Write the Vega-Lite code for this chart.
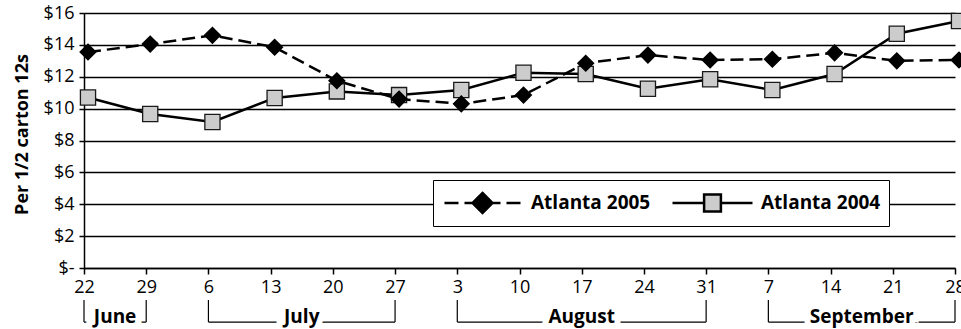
{
  "$schema": "https://vega.github.io/schema/vega-lite/v6.json",
  "width": 871,
  "height": 255,
  "autosize": {"type": "none"},
  "padding": {"left": 84, "top": 13, "right": 6, "bottom": 61},
  "background": "white",
  "datasets": {
    "prices": [
      {"week": "2005-06-22", "series": "Atlanta 2004", "price": 10.7},
      {"week": "2005-06-29", "series": "Atlanta 2004", "price": 9.66},
      {"week": "2005-07-06", "series": "Atlanta 2004", "price": 9.16},
      {"week": "2005-07-13", "series": "Atlanta 2004", "price": 10.67},
      {"week": "2005-07-20", "series": "Atlanta 2004", "price": 11.08},
      {"week": "2005-07-27", "series": "Atlanta 2004", "price": 10.85},
      {"week": "2005-08-03", "series": "Atlanta 2004", "price": 11.17},
      {"week": "2005-08-10", "series": "Atlanta 2004", "price": 12.25},
      {"week": "2005-08-17", "series": "Atlanta 2004", "price": 12.17},
      {"week": "2005-08-24", "series": "Atlanta 2004", "price": 11.25},
      {"week": "2005-08-31", "series": "Atlanta 2004", "price": 11.84},
      {"week": "2005-09-07", "series": "Atlanta 2004", "price": 11.17},
      {"week": "2005-09-14", "series": "Atlanta 2004", "price": 12.17},
      {"week": "2005-09-21", "series": "Atlanta 2004", "price": 14.7},
      {"week": "2005-09-28", "series": "Atlanta 2004", "price": 15.5},
      {"week": "2005-06-22", "series": "Atlanta 2005", "price": 13.55},
      {"week": "2005-06-29", "series": "Atlanta 2005", "price": 14.05},
      {"week": "2005-07-06", "series": "Atlanta 2005", "price": 14.6},
      {"week": "2005-07-13", "series": "Atlanta 2005", "price": 13.85},
      {"week": "2005-07-20", "series": "Atlanta 2005", "price": 11.75},
      {"week": "2005-07-27", "series": "Atlanta 2005", "price": 10.6},
      {"week": "2005-08-03", "series": "Atlanta 2005", "price": 10.3},
      {"week": "2005-08-10", "series": "Atlanta 2005", "price": 10.85},
      {"week": "2005-08-17", "series": "Atlanta 2005", "price": 12.85},
      {"week": "2005-08-24", "series": "Atlanta 2005", "price": 13.36},
      {"week": "2005-08-31", "series": "Atlanta 2005", "price": 13.05},
      {"week": "2005-09-07", "series": "Atlanta 2005", "price": 13.1},
      {"week": "2005-09-14", "series": "Atlanta 2005", "price": 13.5},
      {"week": "2005-09-21", "series": "Atlanta 2005", "price": 13.0},
      {"week": "2005-09-28", "series": "Atlanta 2005", "price": 13.05}
    ],
    "months": [
      {"month": "June", "first": "2005-06-22", "last": "2005-06-29", "mid": "2005-06-25T12:00:00Z"},
      {"month": "July", "first": "2005-07-06", "last": "2005-07-27", "mid": "2005-07-16T12:00:00Z"},
      {"month": "August", "first": "2005-08-03", "last": "2005-08-31", "mid": "2005-08-17T00:00:00Z"},
      {"month": "September", "first": "2005-09-07", "last": "2005-09-28", "mid": "2005-09-17T12:00:00Z"}
    ]
  },
  "layer": [
    {
      "data": {"name": "prices"},
      "transform": [{"filter": "datum.series === 'Atlanta 2004'"}],
      "mark": {"type": "line", "strokeWidth": 2.5, "xOffset": 4},
      "encoding": {
        "x": {
          "field": "week", "type": "temporal",
          "scale": {"type": "utc", "domain": [{"year": 2005, "month": 6, "date": 22, "utc": true}, {"year": 2005, "month": 9, "date": 28, "utc": true}]},
          "axis": {
            "title": null,
            "format": "%-d",
            "values": [
              {"year": 2005, "month": 6, "date": 22, "utc": true},
              {"year": 2005, "month": 6, "date": 29, "utc": true},
              {"year": 2005, "month": 7, "date": 6, "utc": true},
              {"year": 2005, "month": 7, "date": 13, "utc": true},
              {"year": 2005, "month": 7, "date": 20, "utc": true},
              {"year": 2005, "month": 7, "date": 27, "utc": true},
              {"year": 2005, "month": 8, "date": 3, "utc": true},
              {"year": 2005, "month": 8, "date": 10, "utc": true},
              {"year": 2005, "month": 8, "date": 17, "utc": true},
              {"year": 2005, "month": 8, "date": 24, "utc": true},
              {"year": 2005, "month": 8, "date": 31, "utc": true},
              {"year": 2005, "month": 9, "date": 7, "utc": true},
              {"year": 2005, "month": 9, "date": 14, "utc": true},
              {"year": 2005, "month": 9, "date": 21, "utc": true},
              {"year": 2005, "month": 9, "date": 28, "utc": true}
            ],
            "grid": false,
            "domainColor": "#000",
            "domainWidth": 1.5,
            "tickColor": "#000",
            "tickWidth": 1.5,
            "tickSize": 6,
            "labelFontSize": 18,
            "labelColor": "#000",
            "labelPadding": 4,
            "labelFlush": false,
            "labelOverlap": false
          }
        },
        "y": {
          "field": "price", "type": "quantitative",
          "scale": {"domain": [0, 16], "nice": false, "zero": true},
          "axis": {
            "title": "Per 1/2 carton 12s",
            "values": [0, 2, 4, 6, 8, 10, 12, 14, 16],
            "tickCount": 9,
            "labelOverlap": false,
            "labelExpr": "datum.value === 0 ? '$-' : '$' + datum.value",
            "grid": true,
            "gridColor": "#000",
            "gridWidth": 1.5,
            "domainColor": "#000",
            "domainWidth": 1.5,
            "tickColor": "#000",
            "tickWidth": 1.5,
            "tickSize": 5,
            "labelFontSize": 18,
            "labelColor": "#000",
            "labelPadding": 5,
            "titleFontSize": 18,
            "titleFontWeight": "bold",
            "titleColor": "#000",
            "titlePadding": 12,
            "titleY": 121
          }
        },
        "color": {
          "field": "series", "type": "nominal",
          "scale": {"domain": ["Atlanta 2005", "Atlanta 2004"], "range": ["#000000", "#000000"]},
          "legend": {
            "title": null,
            "orient": "none",
            "legendX": 349,
            "legendY": 167,
            "direction": "horizontal",
            "symbolSize": 6400,
            "clipHeight": 30,
            "labelFontSize": 19,
            "labelFontWeight": "bold",
            "labelColor": "#000",
            "labelOffset": 7,
            "columnPadding": 20,
            "padding": 8,
            "strokeColor": "#000",
            "fillColor": "#fff",
            "encode": {
              "symbols": {
                "update": {
                  "shape": {"signal": "datum.value === 'Atlanta 2005' ? 'M-0.95,0H-0.6M-0.45,0H-0.15M0.15,0H0.45M0.6,0H0.95M0,-0.25L0.25,0L0,0.25L-0.25,0Z' : 'M-1,0H-0.21M0.21,0H1M-0.21,-0.21H0.21V0.21H-0.21Z'"},
                  "fill": {"signal": "datum.value === 'Atlanta 2005' ? '#000000' : '#cccccc'"},
                  "stroke": {"value": "#000000"},
                  "strokeWidth": {"value": 2.5},
                  "opacity": {"value": 1}
                }
              }
            }
          }
        }
      }
    },
    {
      "data": {"name": "prices"},
      "transform": [{"filter": "datum.series === 'Atlanta 2005'"}],
      "mark": {"type": "line", "strokeWidth": 2.5, "xOffset": 4, "strokeDash": [13, 6]},
      "encoding": {
        "x": {"field": "week", "type": "temporal", "scale": {"type": "utc", "domain": [{"year": 2005, "month": 6, "date": 22, "utc": true}, {"year": 2005, "month": 9, "date": 28, "utc": true}]}},
        "y": {"field": "price", "type": "quantitative", "scale": {"domain": [0, 16], "nice": false, "zero": true}},
        "color": {"field": "series", "type": "nominal", "scale": {"domain": ["Atlanta 2005", "Atlanta 2004"], "range": ["#000000", "#000000"]}}
      }
    },
    {
      "data": {"name": "prices"},
      "transform": [{"filter": "datum.series === 'Atlanta 2004'"}],
      "mark": {"type": "point", "shape": "square", "filled": true, "fill": "#cccccc", "opacity": 1, "xOffset": 4, "size": 230, "stroke": "#1a1a1a", "strokeWidth": 1.3},
      "encoding": {
        "x": {"field": "week", "type": "temporal", "scale": {"type": "utc", "domain": [{"year": 2005, "month": 6, "date": 22, "utc": true}, {"year": 2005, "month": 9, "date": 28, "utc": true}]}},
        "y": {"field": "price", "type": "quantitative", "scale": {"domain": [0, 16], "nice": false, "zero": true}}
      }
    },
    {
      "data": {"name": "prices"},
      "transform": [{"filter": "datum.series === 'Atlanta 2005'"}],
      "mark": {"type": "point", "shape": "diamond", "filled": true, "fill": "#000000", "opacity": 1, "xOffset": 4, "size": 250, "stroke": "#000000", "strokeWidth": 1.3},
      "encoding": {
        "x": {"field": "week", "type": "temporal", "scale": {"type": "utc", "domain": [{"year": 2005, "month": 6, "date": 22, "utc": true}, {"year": 2005, "month": 9, "date": 28, "utc": true}]}},
        "y": {"field": "price", "type": "quantitative", "scale": {"domain": [0, 16], "nice": false, "zero": true}}
      }
    },
    {
      "data": {"name": "months"},
      "mark": {"type": "rule", "color": "#000", "strokeWidth": 1.2},
      "encoding": {
        "x": {"field": "first", "type": "temporal", "scale": {"type": "utc", "domain": [{"year": 2005, "month": 6, "date": 22, "utc": true}, {"year": 2005, "month": 9, "date": 28, "utc": true}]}},
        "x2": {"field": "last"},
        "y": {"datum": -3.39, "type": "quantitative", "scale": {"domain": [0, 16], "nice": false, "zero": true}}
      }
    },
    {
      "data": {"name": "months"},
      "mark": {"type": "text", "align": "center", "baseline": "alphabetic", "fontSize": 19, "fontWeight": "bold", "fill": "#fff", "stroke": "#fff", "strokeWidth": 12},
      "encoding": {
        "x": {"field": "mid", "type": "temporal", "scale": {"type": "utc", "domain": [{"year": 2005, "month": 6, "date": 22, "utc": true}, {"year": 2005, "month": 9, "date": 28, "utc": true}]}},
        "y": {"datum": -3.45, "type": "quantitative", "scale": {"domain": [0, 16], "nice": false, "zero": true}},
        "text": {"field": "month"}
      }
    },
    {
      "data": {"name": "months"},
      "mark": {"type": "rule", "color": "#000", "strokeWidth": 1.2},
      "encoding": {
        "x": {"field": "first", "type": "temporal", "scale": {"type": "utc", "domain": [{"year": 2005, "month": 6, "date": 22, "utc": true}, {"year": 2005, "month": 9, "date": 28, "utc": true}]}},
        "y": {"datum": -2.01, "type": "quantitative", "scale": {"domain": [0, 16], "nice": false, "zero": true}},
        "y2": {"datum": -3.39}
      }
    },
    {
      "data": {"name": "months"},
      "mark": {"type": "rule", "color": "#000", "strokeWidth": 1.2},
      "encoding": {
        "x": {"field": "last", "type": "temporal", "scale": {"type": "utc", "domain": [{"year": 2005, "month": 6, "date": 22, "utc": true}, {"year": 2005, "month": 9, "date": 28, "utc": true}]}},
        "y": {"datum": -2.01, "type": "quantitative", "scale": {"domain": [0, 16], "nice": false, "zero": true}},
        "y2": {"datum": -3.39}
      }
    },
    {
      "data": {"name": "months"},
      "mark": {"type": "text", "align": "center", "baseline": "alphabetic", "fontSize": 19, "fontWeight": "bold", "fill": "#000"},
      "encoding": {
        "x": {"field": "mid", "type": "temporal", "scale": {"type": "utc", "domain": [{"year": 2005, "month": 6, "date": 22, "utc": true}, {"year": 2005, "month": 9, "date": 28, "utc": true}]}},
        "y": {"datum": -3.45, "type": "quantitative", "scale": {"domain": [0, 16], "nice": false, "zero": true}},
        "text": {"field": "month"}
      }
    }
  ],
  "config": {
    "font": "Open Sans",
    "view": {"stroke": null}
  }
}
